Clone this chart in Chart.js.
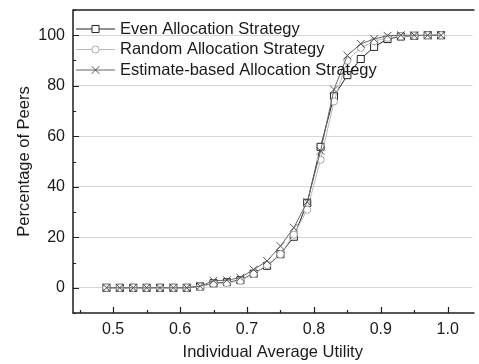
<!DOCTYPE html>
<html>
<head>
<meta charset="utf-8">
<script src="https://cdn.jsdelivr.net/npm/chart.js@4/dist/chart.umd.min.js"></script>
<style>
  html, body { margin: 0; padding: 0; background: #fff; overflow: hidden; }
  #wrap { width: 479px; height: 364px; position: relative; }
</style>
</head>
<body>
<div id="wrap"><canvas id="c" width="479" height="364"></canvas></div>
<script>
// Utility levels (x) where the share of peers was measured
const utility = [0.49, 0.51, 0.53, 0.55, 0.57, 0.59, 0.61, 0.63, 0.65, 0.67, 0.69, 0.71, 0.73,
                 0.75, 0.77, 0.79, 0.81, 0.83, 0.85, 0.87, 0.89, 0.91, 0.93, 0.95, 0.97, 0.99];

// Percentage of peers for each strategy
const evenAllocation = [0, 0, 0, 0, 0, 0, 0, 0.5, 1.8, 2.2, 3.0, 5.6, 8.7,
                        13.3, 20.2, 33.6, 55.8, 75.8, 84.2, 90.6, 95.4, 98.5, 99.5, 99.8, 100, 100];
const randomAllocation = [0, 0, 0, 0, 0, 0, 0, 0.4, 1.7, 1.9, 2.8, 5.5, 9.0,
                          13.3, 21.0, 30.9, 50.7, 73.8, 90.0, 95.0, 97.6, 99.0, 99.6, 99.8, 100, 100];
const estimateAllocation = [0, 0, 0, 0, 0, 0, 0, 0.6, 2.8, 3.0, 4.0, 7.2, 10.6,
                            16.5, 23.8, 34.0, 54.2, 78.5, 92.0, 96.6, 98.5, 99.8, 100, 100, 100, 100];

const seriesNames = ['Even Allocation Strategy', 'Random Allocation Strategy', 'Estimate-based Allocation Strategy'];

// Axis tick values
const xTicks = [0.5, 0.6, 0.7, 0.8, 0.9, 1.0];
const xMinorTicks = [0.45, 0.55, 0.65, 0.75, 0.85, 0.95];
const yTicks = [0, 20, 40, 60, 80, 100];
const yMinorTicks = [-10, 10, 30, 50, 70, 90, 110];

const FONT = "'Liberation Sans', Arial, sans-serif";
const TEXT = '#1a1a1a';

const toPoints = vals => vals.map((v, i) => ({ x: utility[i], y: v }));

const styles = [
  { line: '#222222', point: 'rect',     radius: 5,   pointColor: '#222222', width: 1 },
  { line: '#b8b8b8', point: 'circle',   radius: 3.6, pointColor: '#a8a8a8', width: 1 },
  { line: '#666666', point: 'crossRot', radius: 5.5, pointColor: '#555555', width: 1 }
];
const values = [evenAllocation, randomAllocation, estimateAllocation];

const datasets = values.map((vals, k) => ({
  label: seriesNames[k],
  data: toPoints(vals),
  borderColor: styles[k].line,
  borderWidth: styles[k].width,
  pointStyle: styles[k].point,
  pointRadius: styles[k].radius,
  pointBorderColor: styles[k].pointColor,
  pointBackgroundColor: '#ffffff',
  pointBorderWidth: 1,
  tension: 0,
  order: 2 - k
}));

function marker(ctx, s, px, py) {
  ctx.save();
  ctx.strokeStyle = s.pointColor;
  ctx.fillStyle = '#ffffff';
  ctx.lineWidth = 1;
  Chart.helpers.drawPoint(ctx, { pointStyle: s.point, radius: s.radius, borderWidth: 1, rotation: 0 }, px, py);
  ctx.restore();
}

// Frame, inward tick marks and the in-plot legend
const decorations = {
  id: 'decorations',
  afterDatasetsDraw(chart) {
    const { ctx, chartArea: a, scales: { x, y } } = chart;
    ctx.save();
    // frame (top, left, bottom)
    ctx.strokeStyle = '#1e1e1e';
    ctx.lineWidth = 1.5;
    ctx.beginPath();
    ctx.moveTo(a.right + 2, a.top);
    ctx.lineTo(a.left, a.top);
    ctx.lineTo(a.left, a.bottom);
    ctx.lineTo(a.right + 2, a.bottom);
    ctx.stroke();
    // tick marks pointing into the plot
    ctx.lineWidth = 1.2;
    ctx.beginPath();
    xTicks.forEach(v => { const px = Math.round(x.getPixelForValue(v)) + 0.5; ctx.moveTo(px, a.bottom); ctx.lineTo(px, a.bottom - 6); });
    xMinorTicks.forEach(v => { const px = Math.round(x.getPixelForValue(v)) + 0.5; ctx.moveTo(px, a.bottom); ctx.lineTo(px, a.bottom - 3); });
    yTicks.forEach(v => { const py = Math.round(y.getPixelForValue(v)) + 0.5; ctx.moveTo(a.left, py); ctx.lineTo(a.left + 6, py); });
    yMinorTicks.forEach(v => { const py = Math.round(y.getPixelForValue(v)) + 0.5; ctx.moveTo(a.left, py); ctx.lineTo(a.left + 3, py); });
    ctx.stroke();

    // legend
    const x0 = a.left + 3, x1 = a.left + 42, xm = (x0 + x1) / 2;
    ctx.font = '16.5px ' + FONT;
    ctx.textBaseline = 'middle';
    ctx.textAlign = 'left';
    seriesNames.forEach((name, k) => {
      const ly = a.top + 19 + k * 20.5;
      const s = styles[k];
      ctx.strokeStyle = s.line;
      ctx.lineWidth = s.width;
      ctx.beginPath();
      ctx.moveTo(x0, ly); ctx.lineTo(x1, ly);
      ctx.stroke();
      marker(ctx, s, xm, ly);
      ctx.fillStyle = TEXT;
      ctx.fillText(name, x1 + 5, ly);
    });
    ctx.restore();
  }
};

new Chart(document.getElementById('c'), {
  type: 'line',
  data: { datasets },
  plugins: [decorations],
  options: {
    responsive: false,
    animation: false,
    devicePixelRatio: 1,
    layout: { padding: { top: 10, right: 0, left: 0, bottom: 0 } },
    plugins: { legend: { display: false }, tooltip: { enabled: false } },
    scales: {
      x: {
        type: 'linear',
        min: 0.44,
        max: 1.037,
        afterBuildTicks: s => { s.ticks = xTicks.map(v => ({ value: v })); },
        afterFit: s => { s.height = 51; s.paddingLeft = 0; s.paddingRight = 0; },
        ticks: {
          callback: v => Number(v).toFixed(1),
          font: { family: FONT, size: 16 },
          color: TEXT,
          padding: 7,
          maxRotation: 0,
          autoSkip: false
        },
        grid: { display: false, drawTicks: false },
        border: { display: false },
        title: {
          display: true,
          text: 'Individual Average Utility',
          font: { family: FONT, size: 16.5 },
          color: TEXT,
          padding: { top: 0, bottom: 2 }
        }
      },
      y: {
        min: -10,
        max: 110,
        afterBuildTicks: s => { s.ticks = yTicks.map(v => ({ value: v })); },
        afterFit: s => { s.width = 73; s.paddingTop = 0; s.paddingBottom = 0; },
        ticks: {
          font: { family: FONT, size: 16 },
          color: TEXT,
          padding: 8
        },
        grid: { color: '#d6d6d6', lineWidth: 1, drawTicks: false },
        border: { display: false },
        title: {
          display: true,
          text: 'Percentage of Peers',
          font: { family: FONT, size: 16.5 },
          color: TEXT,
          padding: { top: 15, bottom: 0 }
        }
      }
    }
  }
});
</script>
</body>
</html>
